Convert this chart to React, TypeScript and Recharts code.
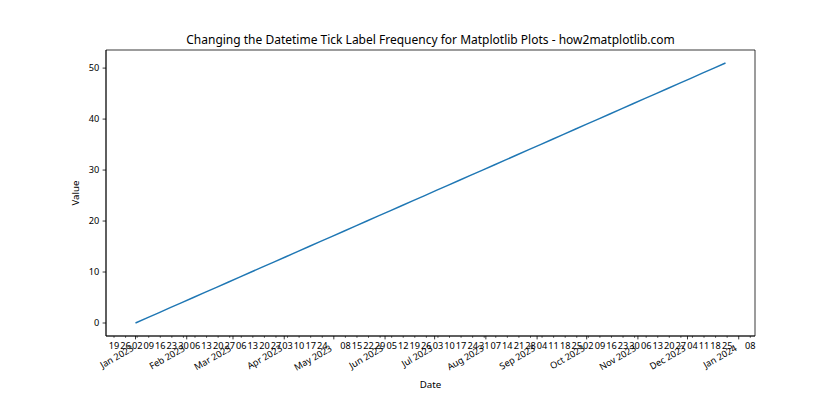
import React from 'react';
import { Line, LineChart, ReferenceArea, XAxis, YAxis } from 'recharts';

const FONT = '"Noto Sans", sans-serif';

// weekly samples (Sundays)
const dates = [
  '2023-01-01', '2023-01-08', '2023-01-15', '2023-01-22', '2023-01-29',
  '2023-02-05', '2023-02-12', '2023-02-19', '2023-02-26',
  '2023-03-05', '2023-03-12', '2023-03-19', '2023-03-26',
  '2023-04-02', '2023-04-09', '2023-04-16', '2023-04-23', '2023-04-30',
  '2023-05-07', '2023-05-14', '2023-05-21', '2023-05-28',
  '2023-06-04', '2023-06-11', '2023-06-18', '2023-06-25',
  '2023-07-02', '2023-07-09', '2023-07-16', '2023-07-23', '2023-07-30',
  '2023-08-06', '2023-08-13', '2023-08-20', '2023-08-27',
  '2023-09-03', '2023-09-10', '2023-09-17', '2023-09-24',
  '2023-10-01', '2023-10-08', '2023-10-15', '2023-10-22', '2023-10-29',
  '2023-11-05', '2023-11-12', '2023-11-19', '2023-11-26',
  '2023-12-03', '2023-12-10', '2023-12-17', '2023-12-24',
];

const values = [
  0, 1, 2, 3, 4, 5, 6, 7, 8, 9, 10, 11, 12, 13, 14, 15, 16, 17, 18, 19,
  20, 21, 22, 23, 24, 25, 26, 27, 28, 29, 30, 31, 32, 33, 34, 35, 36, 37, 38, 39,
  40, 41, 42, 43, 44, 45, 46, 47, 48, 49, 50, 51,
];

// major ticks: month starts
const majorDates = [
  '2023-01-01', '2023-02-01', '2023-03-01', '2023-04-01', '2023-05-01', '2023-06-01', '2023-07-01',
  '2023-08-01', '2023-09-01', '2023-10-01', '2023-11-01', '2023-12-01', '2024-01-01',
];
const majorLabels = [
  'Jan 2023', 'Feb 2023', 'Mar 2023', 'Apr 2023', 'May 2023', 'Jun 2023', 'Jul 2023',
  'Aug 2023', 'Sep 2023', 'Oct 2023', 'Nov 2023', 'Dec 2023', 'Jan 2024',
];

// minor ticks: Mondays
const minorDates = [
  '2022-12-19', '2022-12-26',
  '2023-01-02', '2023-01-09', '2023-01-16', '2023-01-23', '2023-01-30',
  '2023-02-06', '2023-02-13', '2023-02-20', '2023-02-27',
  '2023-03-06', '2023-03-13', '2023-03-20', '2023-03-27',
  '2023-04-03', '2023-04-10', '2023-04-17', '2023-04-24',
  '2023-05-01', '2023-05-08', '2023-05-15', '2023-05-22', '2023-05-29',
  '2023-06-05', '2023-06-12', '2023-06-19', '2023-06-26',
  '2023-07-03', '2023-07-10', '2023-07-17', '2023-07-24', '2023-07-31',
  '2023-08-07', '2023-08-14', '2023-08-21', '2023-08-28',
  '2023-09-04', '2023-09-11', '2023-09-18', '2023-09-25',
  '2023-10-02', '2023-10-09', '2023-10-16', '2023-10-23', '2023-10-30',
  '2023-11-06', '2023-11-13', '2023-11-20', '2023-11-27',
  '2023-12-04', '2023-12-11', '2023-12-18', '2023-12-25',
  '2024-01-01', '2024-01-08',
];

const yTicks = [0, 10, 20, 30, 40, 50];

const toMs = (s: string) => {
  const [y, m, d] = s.split('-').map(Number);
  return Date.UTC(y, m - 1, d);
};

const data = dates.map((d, i) => ({ t: toMs(d), v: values[i] }));

const first = toMs(dates[0]);
const last = toMs(dates[dates.length - 1]);
const pad = (last - first) * 0.05;
const xMin = first - pad;
const xMax = last + pad;
const yMin = -2.55;
const yMax = 53.55;

const majorMs = majorDates.map(toMs);
const majorMap = new Map(majorMs.map((m, i) => [m, majorLabels[i]]));
const minorMs = minorDates.map(toMs).filter((m) => !majorMap.has(m));
const allTicks = [...majorMs, ...minorMs].sort((a, b) => a - b);

const FS = 9.2;

const XTick = (props: any) => {
  const { x, y, payload } = props;
  const v = payload.value;
  const label = majorMap.get(v);
  if (label) {
    const ax = x - 5.5;
    const ay = y + 6.8;
    return (
      <g>
        <line x1={x} x2={x} y1={y} y2={y + 3.4} stroke="#000" strokeWidth={0.78} />
        <text
          x={ax}
          y={ay + 8.6}
          transform={`rotate(-30 ${ax} ${ay})`}
          textAnchor="end"
          fontSize={FS}
          fontFamily={FONT}
          fill="#000"
        >
          {label}
        </text>
      </g>
    );
  }
  const day = new Date(v).getUTCDate();
  return (
    <g>
      <line x1={x} x2={x} y1={y} y2={y + 1.9} stroke="#000" strokeWidth={0.6} />
      <text x={x} y={y + 13.4} textAnchor="middle" fontSize={FS} fontFamily={FONT} fill="#000">
        {String(day).padStart(2, '0')}
      </text>
    </g>
  );
};

export default function App() {
  return (
    <div style={{ position: 'absolute', left: 0, top: 0, width: 840, height: 420, background: '#fff' }}>
      <LineChart width={840} height={420} data={data} margin={{ top: 50, right: 85, bottom: 0, left: 0 }}>
        <XAxis
          dataKey="t"
          type="number"
          domain={[xMin, xMax]}
          allowDataOverflow
          ticks={allTicks}
          interval={0}
          tick={<XTick />}
          tickLine={false}
          tickSize={0}
          tickMargin={0}
          height={84}
          axisLine={{ stroke: '#000', strokeWidth: 0.78 }}
        />
        <YAxis
          type="number"
          domain={[yMin, yMax]}
          allowDataOverflow
          ticks={yTicks}
          interval={0}
          width={106}
          tickSize={3.4}
          tickMargin={3.4}
          tick={{ fill: '#000', fontSize: FS, fontFamily: FONT }}
          tickLine={{ stroke: '#000', strokeWidth: 0.78 }}
          axisLine={{ stroke: '#000', strokeWidth: 0.78 }}
        />
        <ReferenceArea
          x1={xMin}
          x2={xMax}
          y1={yMin}
          y2={yMax}
          fill="none"
          stroke="#000"
          strokeWidth={0.78}
          ifOverflow="visible"
        />
        <Line
          dataKey="v"
          stroke="#1f77b4"
          strokeWidth={1.46}
          dot={false}
          isAnimationActive={false}
        />
      </LineChart>
      <svg width={840} height={420} style={{ position: 'absolute', left: 0, top: 0, pointerEvents: 'none' }}>
        <text x={430.5} y={44} textAnchor="middle" fontSize={12} fontFamily={FONT} fill="#000">
          Changing the Datetime Tick Label Frequency for Matplotlib Plots - how2matplotlib.com
        </text>
        <text x={430.5} y={388} textAnchor="middle" fontSize={9.72} fontFamily={FONT} fill="#000">
          Date
        </text>
        <text
          x={79}
          y={193}
          transform="rotate(-90 79 193)"
          textAnchor="middle"
          fontSize={9.72}
          fontFamily={FONT}
          fill="#000"
        >
          Value
        </text>
      </svg>
    </div>
  );
}
